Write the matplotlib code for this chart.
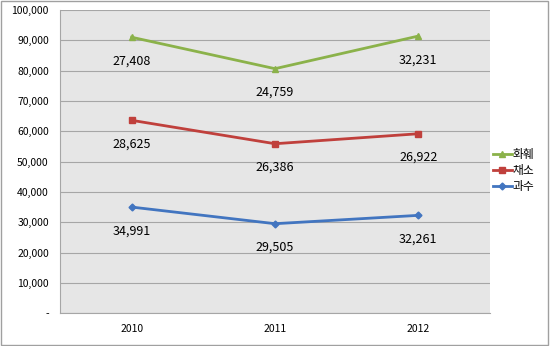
import matplotlib.pyplot as plt
import numpy as np

plt.rcParams['font.family'] = ['Noto Sans CJK KR', 'DejaVu Sans']

years = ['2010', '2011', '2012']
fruit = [34991, 29505, 32261]      # 과수
veg = [28625, 26386, 26922]        # 채소
flower = [27408, 24759, 32231]     # 화훼

x = np.arange(len(years))
s1 = np.array(fruit)
s2 = s1 + np.array(veg)
s3 = s2 + np.array(flower)

fig = plt.figure(figsize=(5.5, 3.46), dpi=100)
ax = fig.add_axes([0.109, 0.095, 0.782, 0.876])
ax.set_facecolor('#e6e6e6')

series = [(s3, flower, '화훼', '#8bb24a', '^', 4.5),
          (s2, veg, '채소', '#c0403c', 's', 4.5),
          (s1, fruit, '과수', '#4275c0', 'D', 3.5)]
for ys, vals, name, col, mk, ms in series:
    ax.plot(x, ys, color=col, lw=2.0, marker=mk, ms=ms, label=name)
    for xi, yi, v in zip(x, ys, vals):
        ax.annotate('{:,}'.format(v), (xi, yi), xytext=(0, -17), textcoords='offset points',
                    ha='center', va='center', fontsize=9)

ax.set_xlim(-0.5, 2.5)
ax.set_ylim(0, 100000)
ax.set_yticks(np.arange(0, 100001, 10000))
ax.set_yticklabels(['-'] + ['{:,}'.format(v) for v in range(10000, 100001, 10000)], fontsize=7.5)
ax.set_xticks(x)
ax.set_xticklabels(years, fontsize=7.5)
ax.tick_params(length=0, pad=8)
ax.grid(axis='y', color='#a6a6a6', lw=0.8)
ax.set_axisbelow(True)
for sp in ['top', 'right']:
    ax.spines[sp].set_visible(False)
ax.spines['left'].set_color('#a6a6a6')
ax.spines['bottom'].set_color('#a6a6a6')

ax.legend(loc='center left', bbox_to_anchor=(0.995, 0.47), frameon=False, fontsize=8.5,
          handlelength=1.6, handletextpad=0.1, labelspacing=0.25, borderaxespad=0)

fig.patches.append(plt.Rectangle((0.002, 0.003), 0.995, 0.994, transform=fig.transFigure,
                                 fill=False, edgecolor='#a0a0a0', lw=1))
fig.savefig('out.png', dpi=100)
